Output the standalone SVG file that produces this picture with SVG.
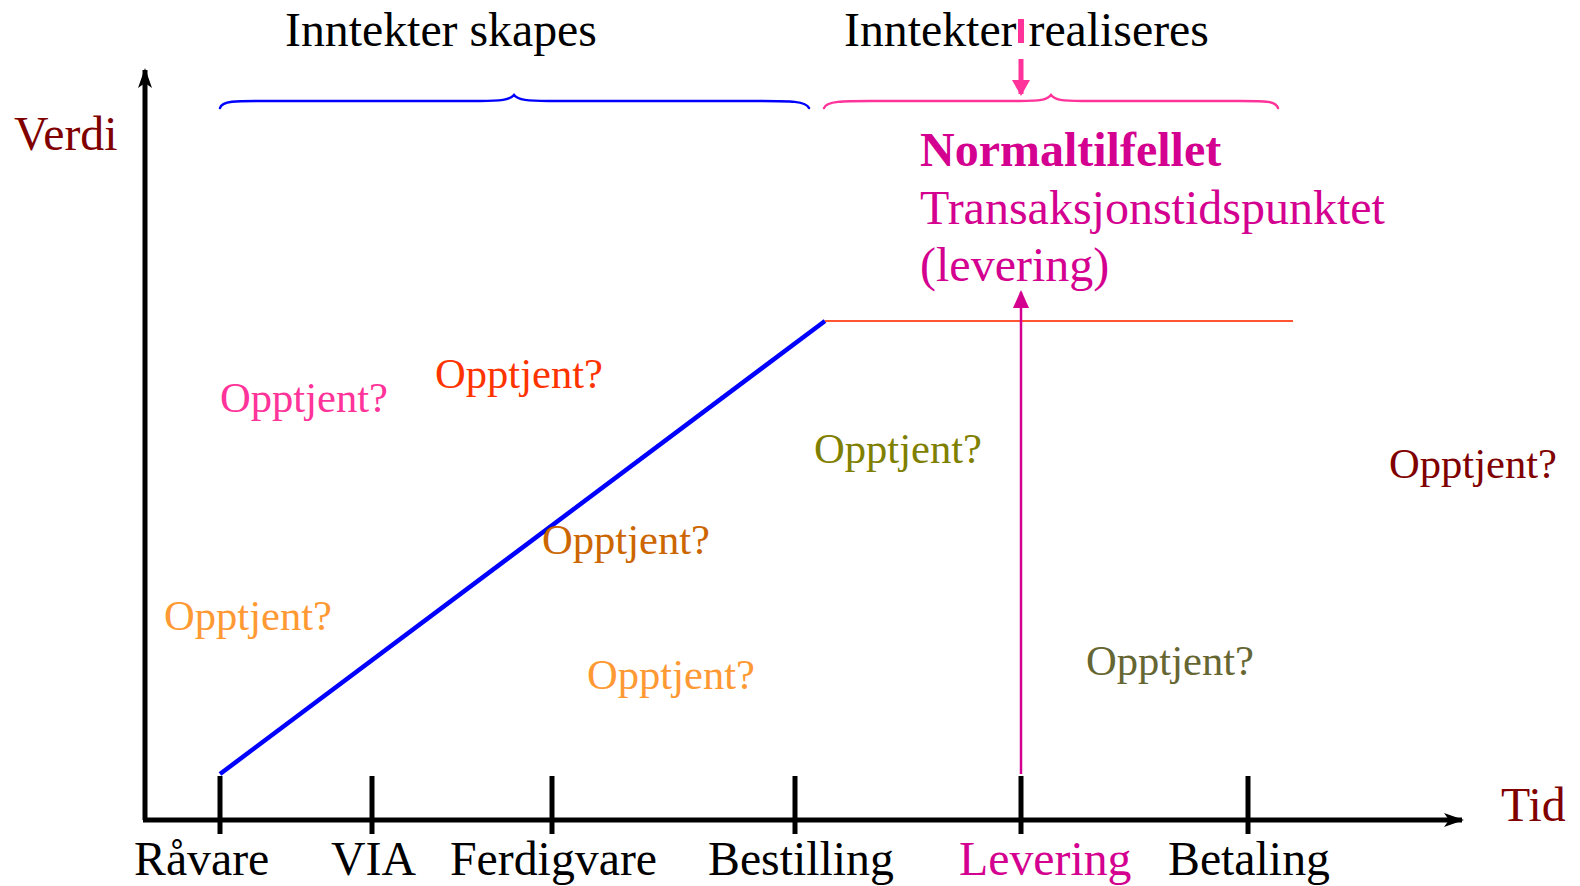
<svg xmlns="http://www.w3.org/2000/svg" width="1580" height="886" viewBox="0 0 1580 886">
  <style>
    text { font-family: "Liberation Serif", "Times New Roman", serif; }
    .lbl { font-size: 47.8px; fill: #000; }
    .q { font-size: 42.6px; }
    .axis { stroke: #000; stroke-width: 5; fill: none; }
    .tick { stroke: #000; stroke-width: 5; }
    .brace { fill: none; stroke-width: 2.5; stroke-linecap: round; }
  </style>
  <defs>
    <marker id="ahBlack" viewBox="0 0 20 14" refX="18" refY="7" markerWidth="20" markerHeight="14" markerUnits="userSpaceOnUse" orient="auto">
      <path d="M0,0 L20,7 L0,14 L5,7 Z" fill="#000"/>
    </marker>
    <marker id="ahMag" viewBox="0 0 18 16" refX="16" refY="8" markerWidth="18" markerHeight="16" markerUnits="userSpaceOnUse" orient="auto">
      <path d="M0,0 L18,8 L0,16 Z" fill="#d4008f"/>
    </marker>
    <marker id="ahPink" viewBox="0 0 16 18" refX="14" refY="9" markerWidth="16" markerHeight="18" markerUnits="userSpaceOnUse" orient="auto">
      <path d="M0,0 L16,9 L0,18 Z" fill="#ff3399"/>
    </marker>
  </defs>

  <!-- axes and ticks -->
  <g id="axes">
    <line class="axis" x1="145" y1="820" x2="145" y2="70" marker-end="url(#ahBlack)"/>
    <line class="axis" x1="143" y1="820" x2="1462" y2="820" marker-end="url(#ahBlack)"/>
    <line class="tick" x1="220" y1="776" x2="220" y2="834"/>
    <line class="tick" x1="372" y1="776" x2="372" y2="834"/>
    <line class="tick" x1="552" y1="776" x2="552" y2="834"/>
    <line class="tick" x1="795" y1="776" x2="795" y2="834"/>
    <line class="tick" x1="1021" y1="776" x2="1021" y2="834"/>
    <line class="tick" x1="1248" y1="776" x2="1248" y2="834"/>
  </g>

  <!-- value curve and connectors -->
  <g id="connectors">
    <line x1="220" y1="774" x2="825" y2="321" stroke="#0000ff" stroke-width="4.5"/>
    <line x1="825" y1="321" x2="1293" y2="321" stroke="#ff5533" stroke-width="2"/>
    <line x1="1021" y1="774" x2="1021" y2="292" stroke="#d4008f" stroke-width="2.5" marker-end="url(#ahMag)"/>
    <line x1="1021" y1="19" x2="1021" y2="43" stroke="#ff3399" stroke-width="6"/>
    <line x1="1021" y1="59" x2="1021" y2="94" stroke="#ff3399" stroke-width="5" marker-end="url(#ahPink)"/>
  </g>

  <!-- braces -->
  <g id="brace-skapes">
    <path class="brace" stroke="#0000ff" d="M220,108 C222,100 240,101 270,101 L480,101 C500,101 510,100 514,95 C518,100 528,101 548,101 L760,101 C790,101 806,101 809,108"/>
  </g>
  <g id="brace-realiseres">
    <path class="brace" stroke="#ff3399" d="M824,108 C826,101 844,101 870,101 L1020,101 C1040,101 1047,100 1051,95 C1055,100 1062,101 1082,101 L1240,101 C1266,101 1276,101 1278,108"/>
  </g>

  <!-- headings -->
  <g id="title-skapes"><text class="lbl" x="285" y="46">Inntekter skapes</text></g>
  <g id="title-realiseres"><text class="lbl" x="844" y="46">Inntekter realiseres</text></g>
  <g id="label-verdi"><text class="lbl" x="14" y="150" style="fill:#800000">Verdi</text></g>
  <g id="label-tid"><text class="lbl" x="1501" y="821" style="fill:#800000">Tid</text></g>

  <!-- normal case note -->
  <g id="note-normal" fill="#d4008f">
    <text x="920" y="166" font-size="48" font-weight="bold">Normaltilfellet</text>
    <text x="920" y="224" font-size="48">Transaksjonstidspunktet</text>
    <text x="920" y="281" font-size="48">(levering)</text>
  </g>

  <!-- time axis labels -->
  <g id="tick-labels">
    <text class="lbl" x="134" y="875">Råvare</text>
    <text class="lbl" x="331" y="875">VIA</text>
    <text class="lbl" x="450" y="875">Ferdigvare</text>
    <text class="lbl" x="708" y="875">Bestilling</text>
    <text class="lbl" x="959" y="875" style="fill:#d4008f">Levering</text>
    <text class="lbl" x="1168" y="875">Betaling</text>
  </g>

  <!-- question labels -->
  <g id="questions">
    <text class="q" x="220" y="412" fill="#ff3399">Opptjent?</text>
    <text class="q" x="435" y="388" fill="#ff3300">Opptjent?</text>
    <text class="q" x="814" y="463" fill="#808000">Opptjent?</text>
    <text class="q" x="1389" y="478" fill="#800000">Opptjent?</text>
    <text class="q" x="542" y="554" fill="#cc6600">Opptjent?</text>
    <text class="q" x="164" y="630" fill="#ff9933">Opptjent?</text>
    <text class="q" x="587" y="689" fill="#ff9933">Opptjent?</text>
    <text class="q" x="1086" y="675" fill="#666633">Opptjent?</text>
  </g>
</svg>
